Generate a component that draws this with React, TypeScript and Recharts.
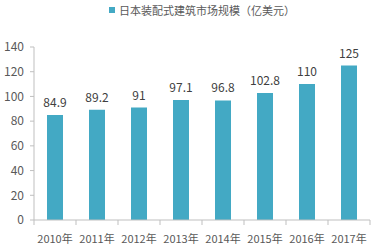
import React from "react";
import { BarChart, Bar, XAxis, YAxis, LabelList, Legend } from "recharts";

const years = ["2010年", "2011年", "2012年", "2013年", "2014年", "2015年", "2016年", "2017年"];
const marketSize = [84.9, 89.2, 91, 97.1, 96.8, 102.8, 110, 125];
const yTicks = [0, 20, 40, 60, 80, 100, 120, 140];
const seriesName = "日本装配式建筑市场规模（亿美元）";

const data = years.map((y, i) => ({ year: y, value: marketSize[i] }));

const FONT = "'Noto Sans CJK SC', 'Noto Sans', sans-serif";
const BAR = "#43a9c4";
const AXIS = "#bfbfbf";
const TEXT = "#595959";

const XTick = (props: any) => {
  const { x, y, payload, index, visibleTicksCount, width } = props;
  const band = width / visibleTicksCount;
  const axisY = y - 15;
  return (
    <g>
      <line x1={x - band / 2} x2={x - band / 2} y1={axisY} y2={axisY + 5} stroke={AXIS} />
      {index === visibleTicksCount - 1 && (
        <line x1={x + band / 2} x2={x + band / 2} y1={axisY} y2={axisY + 5} stroke={AXIS} />
      )}
      <text x={x} y={y} dy="0.71em" textAnchor="middle" fill={TEXT} fontSize={11} fontFamily={FONT}>
        {payload.value}
      </text>
    </g>
  );
};

const LegendContent = () => (
  <div style={{ display: "flex", justifyContent: "center", alignItems: "center", fontFamily: FONT, fontSize: 11, color: TEXT }}>
    <span style={{ display: "inline-block", width: 6, height: 6, background: BAR, marginRight: 4 }} />
    <span>{seriesName}</span>
  </div>
);

export default function App() {
  return (
    <div style={{ position: "absolute", left: 0, top: 0 }}>
      <BarChart width={380} height={250} data={data} margin={{ top: 31, right: 10, left: 0, bottom: 0 }} barCategoryGap={0}>
        <Legend verticalAlign="top" content={<LegendContent />} wrapperStyle={{ top: 2, left: 34, width: 336 }} />
        <XAxis
          dataKey="year"
          stroke={AXIS}
          tickLine={false}
          tickSize={5}
          tickMargin={10}
          height={30}
          interval={0}
          tick={<XTick />}
        />
        <YAxis
          domain={[0, 140]}
          ticks={yTicks}
          width={34}
          stroke={AXIS}
          tickSize={4}
          tickMargin={6}
          tick={{ fill: TEXT, fontSize: 12, fontFamily: FONT }}
        />
        <Bar dataKey="value" fill={BAR} barSize={16} isAnimationActive={false}>
          <LabelList dataKey="value" position="top" offset={8} fill="#404040" fontSize={12} fontFamily={FONT} />
        </Bar>
      </BarChart>
    </div>
  );
}
